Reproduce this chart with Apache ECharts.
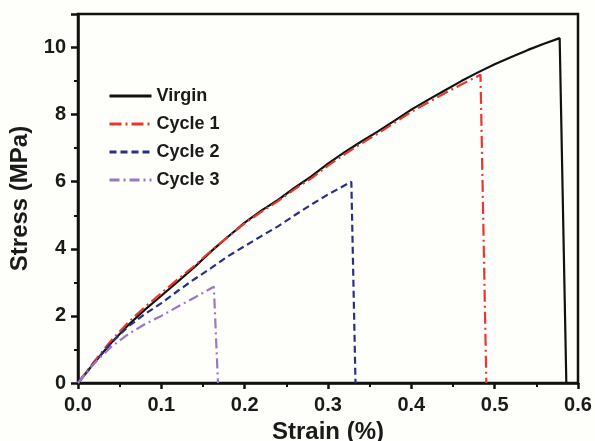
<!DOCTYPE html>
<html>
<head>
<meta charset="utf-8">
<script src="https://cdn.jsdelivr.net/npm/echarts@6/dist/echarts.min.js"></script>
<style>
html,body{margin:0;padding:0;background:#fefefb;}
#c{width:595px;height:441px;}
</style>
</head>
<body>
<div id="c"></div>
<script>
var virginStrain = [0, 0.02, 0.04, 0.06, 0.08, 0.10, 0.12, 0.14, 0.16, 0.18, 0.20, 0.22, 0.24, 0.26, 0.28, 0.30, 0.32, 0.34, 0.36, 0.38, 0.40, 0.42, 0.44, 0.46, 0.48, 0.50, 0.52, 0.54, 0.56, 0.578, 0.586];
var virginStress = [0, 0.62, 1.2, 1.72, 2.18, 2.6, 3.03, 3.46, 3.93, 4.36, 4.78, 5.14, 5.46, 5.82, 6.16, 6.54, 6.88, 7.2, 7.5, 7.82, 8.15, 8.44, 8.72, 9.0, 9.26, 9.5, 9.72, 9.93, 10.12, 10.28, 0];
var cycle1Strain = [0, 0.02, 0.04, 0.06, 0.08, 0.10, 0.12, 0.14, 0.16, 0.18, 0.20, 0.22, 0.24, 0.26, 0.28, 0.30, 0.32, 0.34, 0.36, 0.38, 0.40, 0.42, 0.44, 0.46, 0.483, 0.49];
var cycle1Stress = [0, 0.66, 1.27, 1.8, 2.26, 2.68, 3.1, 3.5, 3.95, 4.36, 4.76, 5.1, 5.42, 5.78, 6.1, 6.48, 6.82, 7.14, 7.44, 7.76, 8.08, 8.36, 8.64, 8.9, 9.19, 0];
var cycle2Strain = [0, 0.02, 0.04, 0.06, 0.08, 0.10, 0.12, 0.14, 0.16, 0.18, 0.20, 0.22, 0.24, 0.26, 0.28, 0.30, 0.328, 0.333];
var cycle2Stress = [0, 0.62, 1.2, 1.68, 2.05, 2.38, 2.75, 3.1, 3.43, 3.78, 4.08, 4.38, 4.67, 5.0, 5.32, 5.62, 6.0, 0];
var cycle3Strain = [0, 0.02, 0.04, 0.06, 0.08, 0.10, 0.12, 0.14, 0.163, 0.168];
var cycle3Stress = [0, 0.6, 1.08, 1.45, 1.75, 2.0, 2.28, 2.55, 2.87, 0];
var seriesNames = ['Virgin', 'Cycle 1', 'Cycle 2', 'Cycle 3'];
var xTicks = [0, 0.1, 0.2, 0.3, 0.4, 0.5, 0.6];
var yTicks = [0, 2, 4, 6, 8, 10];

function zip(a, b) { return a.map(function (v, i) { return [v, b[i]]; }); }

var FONT = '"Liberation Sans", Arial, sans-serif';
var chart = echarts.init(document.getElementById('c'));
var lines = [
  {name: seriesNames[0], data: zip(virginStrain, virginStress), color: '#111111', type: 'solid'},
  {name: seriesNames[1], data: zip(cycle1Strain, cycle1Stress), color: '#e5382e', type: [12, 4, 2, 4]},
  {name: seriesNames[2], data: zip(cycle2Strain, cycle2Stress), color: '#2b2f80', type: [7, 4]},
  {name: seriesNames[3], data: zip(cycle3Strain, cycle3Stress), color: '#9a78c4', type: [10, 4, 2, 4]}
];
chart.setOption({
  backgroundColor: '#fefefb',
  animation: false,
  grid: {left: 78, right: 17, top: 14, bottom: 58, show: true, borderColor: '#111', borderWidth: 2.5,
    backgroundColor: 'transparent', containLabel: false, outerBoundsMode: 'none'},
  legend: {
    orient: 'vertical', left: 103, top: 82,
    itemWidth: 42, itemHeight: 14, itemGap: 10,
    data: seriesNames,
    itemStyle: {opacity: 0},
    lineStyle: {width: 3},
    textStyle: {fontFamily: FONT, fontWeight: 'bold', fontSize: 18, color: '#1a1a1a', padding: [0, 0, 0, 0]}
  },
  xAxis: {
    type: 'value', min: 0, max: 0.6, interval: 0.1,
    name: 'Strain (%)', nameLocation: 'middle', nameGap: 31,
    nameTextStyle: {fontFamily: FONT, fontWeight: 'bold', fontSize: 24, color: '#1a1a1a'},
    axisLine: {show: true, lineStyle: {color: '#111', width: 2.5}},
    axisTick: {show: true, length: 6, lineStyle: {color: '#111', width: 2.5}},
    minorTick: {show: true, splitNumber: 2, length: 4, lineStyle: {color: '#111', width: 2}},
    splitLine: {show: false},
    axisLabel: {fontFamily: FONT, fontWeight: 'bold', fontSize: 20, color: '#1a1a1a', margin: 12,
      formatter: function (v) { return v.toFixed(1); }}
  },
  yAxis: {
    type: 'value', min: 0, max: 11, interval: 2,
    name: 'Stress (MPa)', nameLocation: 'middle', nameGap: 44,
    nameTextStyle: {fontFamily: FONT, fontWeight: 'bold', fontSize: 24, color: '#1a1a1a'},
    axisLine: {show: true, lineStyle: {color: '#111', width: 2.5}},
    axisTick: {show: true, length: 7, lineStyle: {color: '#111', width: 2.5}},
    minorTick: {show: true, splitNumber: 2, length: 4, lineStyle: {color: '#111', width: 2}},
    splitLine: {show: false},
    axisLabel: {fontFamily: FONT, fontWeight: 'bold', fontSize: 20, color: '#1a1a1a', margin: 12,
      showMaxLabel: false,
      formatter: function (v) { return yTicks.indexOf(v) >= 0 ? String(v) : ''; }}
  },
  series: lines.map(function (l) {
    return {
      name: l.name, type: 'line', data: l.data, symbol: 'none', smooth: false,
      color: l.color,
      lineStyle: {color: l.color, width: 2.2, type: l.type}
    };
  })
});
</script>
</body>
</html>
